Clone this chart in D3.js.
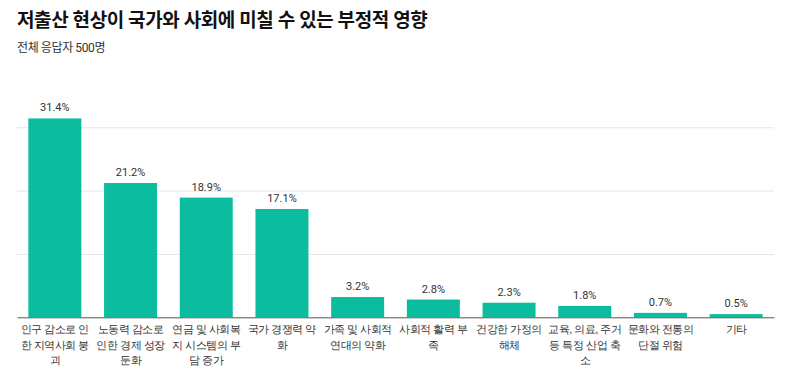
<!DOCTYPE html>
<html>
<head>
<meta charset="utf-8">
<script src="https://cdn.jsdelivr.net/npm/d3@7"></script>
<style>
  body { margin: 0; background: #fff; }
  svg { display: block; font-family: Roboto, "Noto Sans CJK KR", sans-serif; }
</style>
</head>
<body>
<svg id="chart" width="800" height="374"></svg>
<script>
var categories = ["인구 감소로 인한 지역사회 붕괴", "노동력 감소로 인한 경제 성장 둔화", "연금 및 사회복지 시스템의 부담 증가",
  "국가 경쟁력 약화", "가족 및 사회적 연대의 약화", "사회적 활력 부족", "건강한 가정의 해체",
  "교육, 의료, 주거 등 특정 산업 축소", "문화와 전통의 단절 위험", "기타"];
var values = [31.4, 21.2, 18.9, 17.1, 3.2, 2.8, 2.3, 1.8, 0.7, 0.5];
var gridTicks = [10, 20, 30];

var title = "저출산 현상이 국가와 사회에 미칠 수 있는 부정적 영향",
    subtitle = "전체 응답자 500명";

var margin = { top: 95.6, left: 17, right: 26, bottom: 56.7 },
    width = 800 - margin.left - margin.right,
    height = 374 - margin.top - margin.bottom;

var svg = d3.select("#chart");

svg.append("text")
    .attr("x", 17).attr("y", 27)
    .attr("font-size", 19).attr("font-weight", 700)
    .attr("letter-spacing", "-0.4px")
    .attr("fill", "#111")
    .text(title);

svg.append("text")
    .attr("x", 17).attr("y", 52)
    .attr("font-size", 12)
    .attr("letter-spacing", "-0.4px")
    .attr("fill", "#333")
    .text(subtitle);

var g = svg.append("g").attr("transform", "translate(" + margin.left + "," + margin.top + ")");

var x = d3.scaleBand()
    .domain(categories)
    .range([0, width])
    .paddingInner(0.3)
    .paddingOuter(0.15);

var y = d3.scaleLinear()
    .domain([0, 35])
    .range([height, 0]);

// gridlines
g.append("g")
    .call(d3.axisLeft(y).tickValues(gridTicks).tickSize(-width).tickFormat(""))
    .call(function(a) {
      a.select(".domain").remove();
      a.selectAll(".tick line").attr("stroke", "#e6e6e6");
    });

g.selectAll(".bar")
  .data(values)
  .enter().append("rect")
    .attr("class", "bar")
    .attr("x", function(d, i) { return x(categories[i]); })
    .attr("y", function(d) { return y(d); })
    .attr("width", x.bandwidth())
    .attr("height", function(d) { return height - y(d); })
    .attr("fill", "#0bbc9f");

g.selectAll(".val")
  .data(values)
  .enter().append("text")
    .attr("class", "val")
    .attr("x", function(d, i) { return x(categories[i]) + x.bandwidth() / 2; })
    .attr("y", function(d) { return y(d) - 7; })
    .attr("text-anchor", "middle")
    .attr("font-size", 11)
    .attr("fill", "#333")
    .text(function(d) { return d.toFixed(1) + "%"; });

// x axis
var xAxis = g.append("g")
    .attr("transform", "translate(0," + height + ")")
    .call(d3.axisBottom(x).tickSize(0).tickFormat(""));
xAxis.select(".domain").attr("stroke", "#555");

// wrap labels character by character (CJK style)
function wrapChars(text, maxW) {
  text.each(function(label) {
    var t = d3.select(this), lines = [], line = "";
    var probe = t.append("tspan");
    for (var c of label) {
      var test = line + c;
      probe.text(test);
      if (probe.node().getComputedTextLength() > maxW && line.trim() !== "") {
        lines.push(line.trim());
        line = c;
      } else {
        line = test;
      }
    }
    if (line.trim() !== "") lines.push(line.trim());
    probe.remove();
    lines.forEach(function(l, i) {
      t.append("tspan").attr("x", 0).attr("y", 16 + i * 15.5).text(l);
    });
  });
}

xAxis.selectAll(".tick").append("text")
    .attr("text-anchor", "middle")
    .attr("font-size", 11)
    .attr("letter-spacing", "-0.5px")
    .attr("fill", "#333")
    .call(wrapChars, 74);
</script>
</body>
</html>
